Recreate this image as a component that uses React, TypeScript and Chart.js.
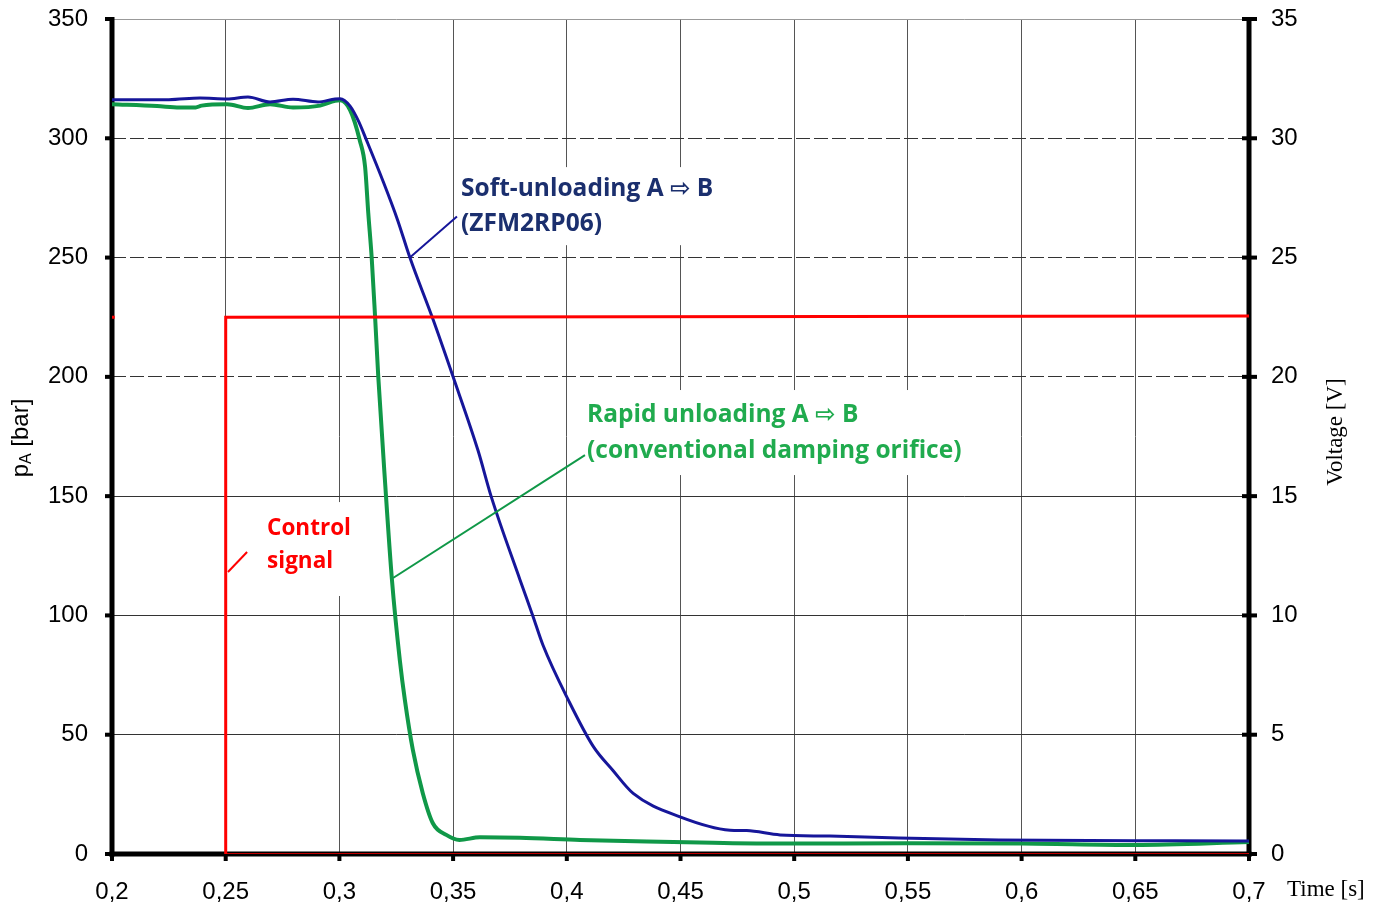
import React, { useEffect, useRef } from 'react';
import { Chart, registerables } from 'chart.js';

Chart.register(...registerables);

// ---- data ----
const xTickLabels = ['0,2', '0,25', '0,3', '0,35', '0,4', '0,45', '0,5', '0,55', '0,6', '0,65', '0,7'];

const softX = [0.2, 0.225, 0.2387, 0.2506, 0.2598, 0.2695, 0.2796, 0.2906, 0.2981, 0.3003, 0.3047, 0.3085, 0.312, 0.3192, 0.3255, 0.331, 0.3412, 0.35, 0.361, 0.3667, 0.3794, 0.385, 0.3895, 0.4007, 0.4117, 0.4203, 0.4292, 0.4498, 0.4718, 0.4791, 0.4938, 0.5157, 0.546, 0.59, 0.65, 0.7];
const softY = [316.2, 316.2, 316.9, 316.5, 317.3, 315.2, 316.4, 315.2, 316.5, 316.6, 313.5, 307, 299, 282, 266, 250, 224, 200, 169, 150, 115, 100, 87.6, 64.5, 45, 35, 25.4, 15.6, 10, 9.8, 8, 7.5, 6.7, 5.9, 5.6, 5.4];

const rapidX = [0.2, 0.2198, 0.2297, 0.2368, 0.2394, 0.2506, 0.2598, 0.2695, 0.2796, 0.2915, 0.2981, 0.3003, 0.3047, 0.309, 0.3113, 0.3127, 0.3142, 0.3157, 0.3171, 0.32, 0.3231, 0.3266, 0.3288, 0.3323, 0.3367, 0.3411, 0.347, 0.3528, 0.3618, 0.3794, 0.4058, 0.4352, 0.4643, 0.4938, 0.55, 0.6, 0.65, 0.7];
const rapidY = [314.3, 313.5, 312.9, 312.9, 313.7, 314.3, 312.7, 314.3, 312.9, 313.7, 315.7, 315.9, 311.8, 299, 288, 268.6, 250, 225, 200, 157, 115, 81, 64.5, 43.6, 25.4, 12.9, 8, 5.9, 7, 6.8, 5.9, 5.2, 4.7, 4.4, 4.5, 4.4, 3.8, 5];

const controlX = [0.25, 0.25, 0.7];
const controlY = [0, 22.5, 22.55];
const controlLowX = [0.25, 0.7];
const controlLowY = [0, 0];
const controlStubX = [0.2, 0.2012];
const controlStubY = [22.5, 22.5];

// annotation anchors (data coordinates, left axis)
const softLabel = ['Soft-unloading A \u21E8 B', '(ZFM2RP06)'];
const softLabelAt = [0.3535, 278.7, 264];
const softLeader = [0.331, 250, 0.3517, 267.2];
const rapidLabel = ['Rapid unloading A \u21E8 B', '(conventional damping orifice)'];
const rapidLabelAt = [0.4089, 184, 168.9];
const rapidLeader = [0.3236, 115.7, 0.408, 167.2];
const controlLabel = ['Control', 'signal'];
const controlLabelAt = [0.2682, 136.2, 122.4];
const controlLeader = [0.251, 118.2, 0.2594, 126.6];

const BLUE_LINE = '#16169a';
const BLUE_TEXT = '#1b2f6e';
const GREEN_LINE = '#109848';
const GREEN_TEXT = '#20ab4e';
const RED = '#ff0000';

const SANS = "'Liberation Sans', Arial, sans-serif";
const SERIF = "'Liberation Serif', 'Times New Roman', serif";
const LABEL_FONT = "bold 24.5px 'Open Sans', 'DejaVu Sans', sans-serif";
const CONTROL_FONT = "bold 22.5px 'Open Sans', 'DejaVu Sans', sans-serif";

const pts = (xs: number[], ys: number[]) => xs.map((x, i) => ({ x, y: ys[i] }));

const overlay = {
  id: 'overlay',
  beforeDatasetsDraw(chart: any) {
    const { ctx, chartArea: a, scales } = chart;
    const xs = scales.x;
    const ys = scales.y;
    ctx.save();
    ctx.fillStyle = '#fff';
    const box = (lines: string[], at: number[], font: string, padTop: number, padBot: number) => {
      ctx.font = font;
      const x0 = xs.getPixelForValue(at[0]);
      const y1 = ys.getPixelForValue(at[1]);
      const y2 = ys.getPixelForValue(at[2]);
      const w = Math.max(...lines.map((l) => ctx.measureText(l).width));
      ctx.fillRect(x0 - 4, y1 - padTop, w + 8, y2 - y1 + padTop + padBot);
    };
    box(softLabel, softLabelAt, LABEL_FONT, 22, 21);
    box(rapidLabel, rapidLabelAt, LABEL_FONT, 25, 24);
    box(controlLabel, controlLabelAt, CONTROL_FONT, 27, 34);

    ctx.fillStyle = '#000';
    ctx.fillRect(a.left - 2.5, a.top - 2, 5, a.bottom - a.top + 4.5);
    ctx.fillRect(a.right - 2.5, a.top - 2, 5, a.bottom - a.top + 4.5);
    ctx.fillRect(a.left - 2.5, a.bottom - 2.5, a.right - a.left + 5, 5);
    ys.ticks.forEach((t: any) => {
      const py = ys.getPixelForValue(t.value);
      ctx.fillRect(a.left - 7, py - 2, 8, 4);
      ctx.fillRect(a.right - 7, py - 2, 15, 4);
    });
    xs.ticks.forEach((t: any) => {
      const px = xs.getPixelForValue(t.value);
      ctx.fillRect(px - 2, a.bottom, 4, 7);
    });
    ctx.restore();
  },
  afterDatasetsDraw(chart: any) {
    const { ctx, scales } = chart;
    const xs = scales.x;
    const ys = scales.y;
    ctx.save();
    const leader = (l: number[], color: string) => {
      ctx.beginPath();
      ctx.moveTo(xs.getPixelForValue(l[0]), ys.getPixelForValue(l[1]));
      ctx.lineTo(xs.getPixelForValue(l[2]), ys.getPixelForValue(l[3]));
      ctx.strokeStyle = color;
      ctx.lineWidth = 2;
      ctx.stroke();
    };
    leader(softLeader, BLUE_LINE);
    leader(rapidLeader, GREEN_LINE);
    leader(controlLeader, RED);

    ctx.textAlign = 'left';
    ctx.textBaseline = 'middle';
    const text = (lines: string[], at: number[], color: string, font: string) => {
      ctx.font = font;
      ctx.fillStyle = color;
      const x0 = xs.getPixelForValue(at[0]);
      ctx.fillText(lines[0], x0, ys.getPixelForValue(at[1]));
      ctx.fillText(lines[1], x0, ys.getPixelForValue(at[2]));
    };
    text(softLabel, softLabelAt, BLUE_TEXT, LABEL_FONT);
    text(rapidLabel, rapidLabelAt, GREEN_TEXT, LABEL_FONT);
    text(controlLabel, controlLabelAt, RED, CONTROL_FONT);
    ctx.restore();
  },
  afterDraw(chart: any) {
    const { ctx } = chart;
    ctx.save();
    ctx.fillStyle = '#000';
    ctx.translate(21, 438);
    ctx.rotate(-Math.PI / 2);
    ctx.textBaseline = 'middle';
    ctx.textAlign = 'left';
    const big = `24px ${SANS}`;
    const small = `16px ${SANS}`;
    ctx.font = big;
    const wp = ctx.measureText('p').width;
    const wb = ctx.measureText(' [bar]').width;
    ctx.font = small;
    const wa = ctx.measureText('A').width;
    let x = -(wp + wa + wb) / 2;
    ctx.font = big;
    ctx.fillText('p', x, 0);
    x += wp;
    ctx.font = small;
    ctx.fillText('A', x, 6);
    x += wa;
    ctx.font = big;
    ctx.fillText(' [bar]', x, 0);
    ctx.restore();

    ctx.save();
    ctx.fillStyle = '#000';
    ctx.font = `23px ${SERIF}`;
    ctx.textBaseline = 'middle';
    ctx.textAlign = 'center';
    ctx.translate(1336, 432);
    ctx.rotate(-Math.PI / 2);
    ctx.fillText('Voltage [V]', 0, 0);
    ctx.restore();

    ctx.save();
    ctx.fillStyle = '#000';
    ctx.font = `23px ${SERIF}`;
    ctx.textBaseline = 'middle';
    ctx.textAlign = 'left';
    ctx.fillText('Time [s]', 1287, 890);
    ctx.restore();
  },
};

export default function App() {
  const ref = useRef<HTMLCanvasElement | null>(null);
  useEffect(() => {
    if (!ref.current) return;
    const chart = new Chart(ref.current, {
      type: 'line',
      data: {
        datasets: [
          { label: 'Control signal', data: pts(controlX, controlY), yAxisID: 'y2', borderColor: RED, borderWidth: 3, pointRadius: 0, tension: 0 },
          { label: 'Control signal low', data: pts(controlLowX, controlLowY), yAxisID: 'y2', borderColor: RED, borderWidth: 1.5, pointRadius: 0, tension: 0 },
          { label: 'Control stub', data: pts(controlStubX, controlStubY), yAxisID: 'y2', borderColor: RED, borderWidth: 3, pointRadius: 0, tension: 0 },
          { label: 'Soft-unloading', data: pts(softX, softY), yAxisID: 'y', borderColor: BLUE_LINE, borderWidth: 3, pointRadius: 0, cubicInterpolationMode: 'monotone' },
          { label: 'Rapid unloading', data: pts(rapidX, rapidY), yAxisID: 'y', borderColor: GREEN_LINE, borderWidth: 4, pointRadius: 0, cubicInterpolationMode: 'monotone' },
        ],
      },
      options: {
        animation: false,
        responsive: false,
        maintainAspectRatio: false,
        devicePixelRatio: 1,
        layout: { padding: { top: 19, left: 0, right: 0, bottom: 0 } },
        plugins: { legend: { display: false }, tooltip: { enabled: false } },
        scales: {
          x: {
            type: 'linear',
            min: 0.2,
            max: 0.7,
            afterFit: (s: any) => { s.height = 49; s.paddingLeft = 0; s.paddingRight = 0; },
            ticks: {
              stepSize: 0.05,
              padding: 24,
              color: '#000',
              font: { family: SANS, size: 24 },
              callback: (_v: any, i: number) => xTickLabels[i],
            },
            grid: { color: '#555', lineWidth: 1, drawTicks: false },
            border: { display: false },
          },
          y: {
            type: 'linear',
            position: 'left',
            min: 0,
            max: 350,
            afterFit: (s: any) => { s.width = 112; s.paddingTop = 0; s.paddingBottom = 0; },
            ticks: { stepSize: 50, padding: 24, color: '#000', font: { family: SANS, size: 24 } },
            grid: {
              drawTicks: false,
              lineWidth: 1,
              color: (c: any) => (c.tick && c.tick.value === 350 ? '#999' : '#333'),
            },
            border: {
              display: false,
              dash: (c: any) => (c.tick && [200, 250, 300].includes(c.tick.value) ? [14, 4] : []),
            },
          },
          y2: {
            type: 'linear',
            position: 'right',
            min: 0,
            max: 35,
            afterFit: (s: any) => { s.width = 134; s.paddingTop = 0; s.paddingBottom = 0; },
            ticks: { stepSize: 5, padding: 22, color: '#000', font: { family: SANS, size: 24 } },
            grid: { display: false, drawTicks: false },
            border: { display: false },
          },
        },
      },
      plugins: [overlay],
    } as any);
    return () => chart.destroy();
  }, []);
  return (
    <div style={{ position: 'absolute', left: 0, top: 0, width: 1383, height: 903, background: '#fff' }}>
      <canvas ref={ref} width={1383} height={903} style={{ display: 'block' }} />
    </div>
  );
}
